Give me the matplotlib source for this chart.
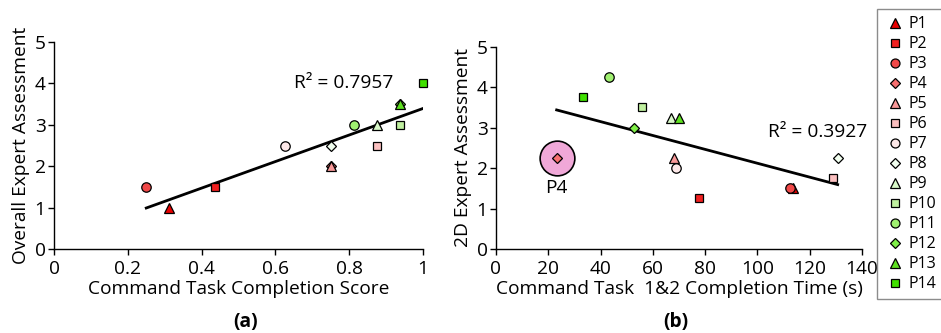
import numpy as np
import matplotlib.pyplot as plt
from matplotlib.lines import Line2D

plt.rcParams['font.family'] = ['Open Sans', 'DejaVu Sans']

participants = ['P1', 'P2', 'P3', 'P4', 'P5', 'P6', 'P7',
                'P8', 'P9', 'P10', 'P11', 'P12', 'P13', 'P14']
markers = ['^', 's', 'o', 'D', '^', 's', 'o', 'D', '^', 's', 'o', 'D', '^', 's']
colors = ['#e80000', '#f02020', '#f04848', '#f87070', '#f89898', '#fbc0c0', '#fde8e8',
          '#f2fff0', '#d8f8c8', '#c0f0a0', '#a0f070', '#80f048', '#5ee020', '#40e000']

# (a) completion score vs overall assessment
score = [0.3125, 0.4375, 0.25, 0.75, 0.75, 0.875, 0.625,
         0.75, 0.875, 0.9375, 0.8125, 0.9375, 0.9375, 1.0]
overall = [1.0, 1.5, 1.5, 2.0, 2.0, 2.5, 2.5,
           2.5, 3.0, 3.0, 3.0, 3.5, 3.5, 4.0]

# (b) completion time vs 2D assessment
time_s = [113.5, 77.8, 112.3, 23.2, 68.2, 128.8, 68.7,
          130.7, 67.1, 55.9, 43.1, 52.9, 70.0, 33.2]
assess_2d = [1.5, 1.25, 1.5, 2.25, 2.25, 1.75, 2.0,
             2.25, 3.25, 3.5, 4.25, 3.0, 3.25, 3.75]

r2_a = '0.7957'
r2_b = '0.3927'

W, H = 941, 333
fig = plt.figure(figsize=(W / 100, H / 100), dpi=100)
ax1 = fig.add_axes([54 / W, 1 - 249 / H, 369 / W, 207 / H])
ax2 = fig.add_axes([496 / W, 1 - 249 / H, 366 / W, 202.3 / H])

fs = 13.8


def msize(m):
    return {'s': 6.2, 'o': 6.8, '^': 7.2, 'D': 5.6}[m]


def scatter_all(ax, xs, ys):
    for x, y, m, c in zip(xs, ys, markers, colors):
        ax.plot(x, y, marker=m, ms=msize(m), mfc=c, mec='black', mew=0.9,
                ls='none', zorder=3, clip_on=False)


def trend(ax, xs, ys):
    k, b = np.polyfit(xs, ys, 1)
    xx = np.array([min(xs), max(xs)])
    ax.plot(xx, k * xx + b, color='black', lw=2, zorder=2)


def style(ax, xticks, xlabels):
    for s in ['top', 'right']:
        ax.spines[s].set_visible(False)
    for s in ['left', 'bottom']:
        ax.spines[s].set_linewidth(1.0)
    ax.set_xticks(xticks)
    ax.set_xticklabels(xlabels)
    ax.set_yticks(range(6))
    ax.set_ylim(0, 5)
    ax.tick_params(labelsize=fs, length=4, width=1, pad=2)
    ax.tick_params(axis='x', pad=4)


# panel (a)
trend(ax1, score, overall)
scatter_all(ax1, score, overall)
style(ax1, [0, 0.2, 0.4, 0.6, 0.8, 1.0], ['0', '0.2', '0.4', '0.6', '0.8', '1'])
ax1.set_xlim(0, 1)
ax1.set_xlabel('Command Task Completion Score', fontsize=fs, labelpad=1)
ax1.set_ylabel('Overall Expert Assessment', fontsize=fs, labelpad=3)
ax1.text(0.785, 4.0, 'R² = ' + r2_a, fontsize=fs, ha='center', va='center')

# panel (b)
ax2.plot(time_s[3], assess_2d[3], marker='o', ms=25, mfc='#f0a8d8', mec='black',
         mew=1.2, ls='none', zorder=2)
ax2.text(time_s[3], 1.52, 'P4', fontsize=fs, ha='center', va='center')
trend(ax2, time_s, assess_2d)
scatter_all(ax2, time_s, assess_2d)
style(ax2, range(0, 141, 20), [str(v) for v in range(0, 141, 20)])
ax2.set_xlim(0, 140)
ax2.set_xlabel('Command Task  1&2 Completion Time (s)', fontsize=fs, labelpad=1)
ax2.set_ylabel('2D Expert Assessment', fontsize=fs, labelpad=3)
ax2.text(123, 2.9, 'R² = ' + r2_b, fontsize=fs, ha='center', va='center')

fig.text(245.7 / W, 1 - 322 / H, '(a)', fontsize=fs, fontweight='bold',
         ha='center', va='center')
fig.text(675.7 / W, 1 - 322 / H, '(b)', fontsize=fs, fontweight='bold',
         ha='center', va='center')

handles = [Line2D([], [], marker=m, ms=msize(m) * 0.95, mfc=c, mec='black', mew=0.9,
                  ls='none', label=p)
           for p, m, c in zip(participants, markers, colors)]
leg = fig.legend(handles=handles, loc='upper left',
                 bbox_to_anchor=(877 / W, 1 - 9 / H), fontsize=11.5,
                 frameon=True, fancybox=False, edgecolor='#707070',
                 handlelength=1.4, handletextpad=0.15, labelspacing=0.25,
                 borderpad=0.45, borderaxespad=0)
leg.get_frame().set_linewidth(1.0)

fig.savefig('out.png', dpi=100)
